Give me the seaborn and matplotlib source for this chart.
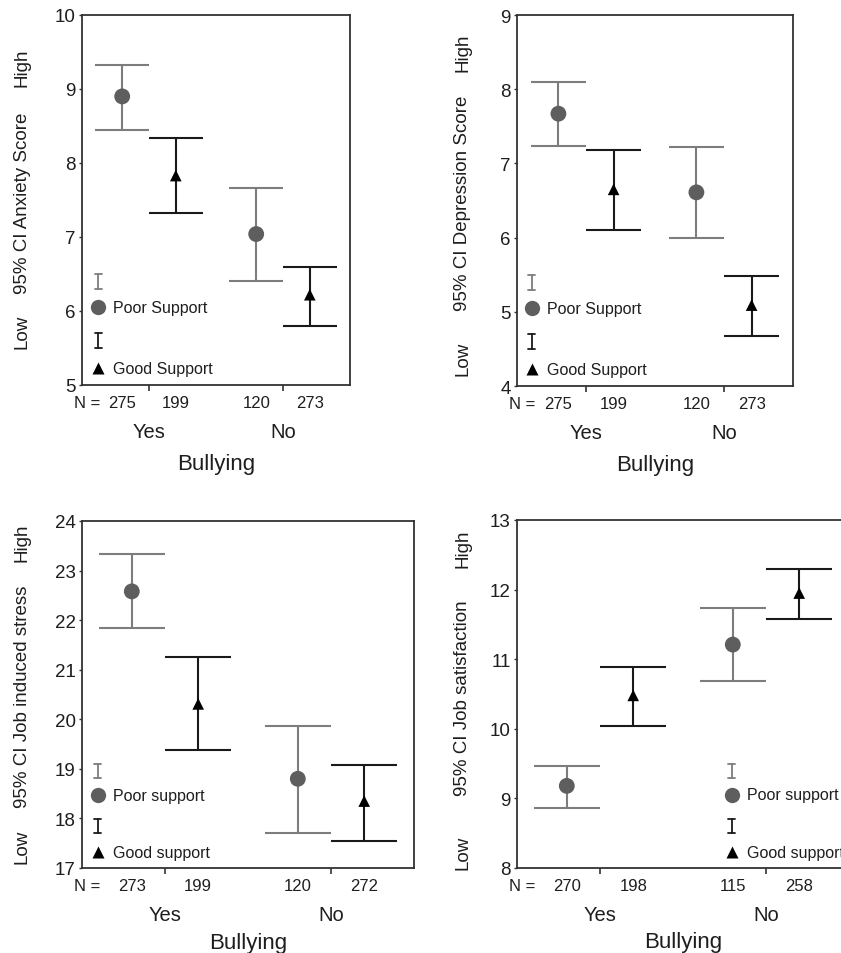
import numpy as np
import pandas as pd
import seaborn as sns
import matplotlib.pyplot as plt

sns.set_style("ticks")
plt.rcParams["font.family"] = ["Liberation Sans", "DejaVu Sans"]

# order of every list: Poor/Yes, Good/Yes, Poor/No, Good/No
bullying = ["Yes", "Yes", "No", "No"]
support = ["Poor", "Good", "Poor", "Good"]

anx_mean = [8.90, 7.83, 7.04, 6.22]
anx_lo = [8.45, 7.32, 6.41, 5.80]
anx_hi = [9.33, 8.34, 7.66, 6.59]
anx_n = [275, 199, 120, 273]

dep_mean = [7.67, 6.65, 6.61, 5.09]
dep_lo = [7.24, 6.10, 6.00, 4.67]
dep_hi = [8.10, 7.18, 7.22, 5.48]
dep_n = [275, 199, 120, 273]

str_mean = [22.58, 20.31, 18.80, 18.35]
str_lo = [21.85, 19.38, 17.71, 17.55]
str_hi = [23.33, 21.26, 19.87, 19.07]
str_n = [273, 199, 120, 272]

sat_mean = [9.18, 10.48, 11.21, 11.95]
sat_lo = [8.86, 10.04, 10.68, 11.58]
sat_hi = [9.47, 10.89, 11.74, 12.29]
sat_n = [270, 198, 115, 258]

group_pos = {"Yes": 1, "No": 3}
support_off = {"Poor": -0.4, "Good": 0.4}
bar_col = {"Poor": "#7d7d7d", "Good": "#1a1a1a"}
mark_col = {"Poor": "#5e5e5e", "Good": "#000000"}
txt = "#1e1e1e"
DPI = 100


def panel(ax, mean, lo, hi, n, ylim, ylabel, labels, leg_x, ax_w, ylab_off, yfr, xpad=9):
    df = pd.DataFrame({"bullying": bullying, "support": support,
                       "mean": mean, "lo": lo, "hi": hi, "n": n})
    df["pos"] = df["bullying"].map(group_pos) + df["support"].map(support_off)

    for _, r in df.iterrows():
        c = bar_col[r["support"]]
        ax.vlines(r["pos"], r["lo"], r["hi"], color=c, lw=1.5, zorder=2)
        ax.hlines([r["lo"], r["hi"]], r["pos"] - 0.4, r["pos"] + 0.4, color=c, lw=1.5, zorder=2)

    sns.scatterplot(data=df[df["support"] == "Poor"], x="pos", y="mean", marker="o",
                    color=mark_col["Poor"], s=130, edgecolor="none", ax=ax, zorder=3, legend=False)
    sns.scatterplot(data=df[df["support"] == "Good"], x="pos", y="mean", marker="^",
                    color=mark_col["Good"], s=70, edgecolor="none", ax=ax, zorder=3, legend=False)

    ax.set_xlim(0, 4)
    ax.set_ylim(*ylim)
    ax.set_yticks(np.arange(ylim[0], ylim[1] + 1))
    ax.set_xticks([1, 3])
    ax.set_xticklabels(["Yes", "No"], fontsize=14.5, color=txt)
    ax.tick_params(axis="x", direction="out", length=4.5, width=1.2, pad=22, colors="#333333")
    ax.tick_params(axis="x", labelcolor=txt)
    ax.tick_params(axis="y", direction="out", length=2.5, width=1.0, pad=2,
                   labelsize=13.5, colors="#333333", labelcolor=txt)
    ax.set_xlabel("Bullying", fontsize=16, color=txt, labelpad=xpad)
    ax.set_ylabel("")
    for s in ax.spines.values():
        s.set_visible(True)
        s.set_color("#333333")
        s.set_linewidth(1.3)

    # N row under the axis
    tr = ax.get_xaxis_transform()
    for p, v in zip(df["pos"], df["n"]):
        ax.annotate(str(v), xy=(p, 0), xycoords=tr, xytext=(0, -12.5), textcoords="offset points",
                    ha="center", va="center", fontsize=12, color=txt)
    ax.annotate("N =", xy=(0, 0), xycoords="axes fraction", xytext=(3.6, -12.5),
                textcoords="offset points", ha="center", va="center", fontsize=12, color=txt)

    # y label: Low / title / High
    for s, yf in zip(["Low", ylabel, "High"], yfr):
        ax.annotate(s, xy=(0, yf), xycoords="axes fraction", xytext=(ylab_off, 0),
                    textcoords="offset points", rotation=90, ha="center", va="center",
                    fontsize=13.5, color=txt)

    # hand-drawn key
    cap = 3.5 / ax_w
    tx = leg_x + 15 / ax_w
    for (y1, y2), c in zip([(0.26, 0.30), (0.10, 0.14)], [bar_col["Poor"], bar_col["Good"]]):
        ax.plot([leg_x, leg_x], [y1, y2], color=c, lw=1.3, transform=ax.transAxes, clip_on=False)
        for yy in (y1, y2):
            ax.plot([leg_x - cap, leg_x + cap], [yy, yy], color=c, lw=1.3,
                    transform=ax.transAxes, clip_on=False)
    ax.plot([leg_x], [0.21], marker="o", ms=11, color=mark_col["Poor"], mec="none",
            transform=ax.transAxes, clip_on=False)
    ax.plot([leg_x], [0.045], marker="^", ms=8, color=mark_col["Good"], mec="none",
            transform=ax.transAxes, clip_on=False)
    ax.text(tx, 0.21, labels[0], transform=ax.transAxes, va="center", ha="left",
            fontsize=11.5, color=txt)
    ax.text(tx, 0.045, labels[1], transform=ax.transAxes, va="center", ha="left",
            fontsize=11.5, color=txt)


fig = plt.figure(figsize=(8.41, 9.54), dpi=DPI)
ax1 = fig.add_axes([82 / 841, 1 - 386 / 954, 268 / 841, 370 / 954])
ax2 = fig.add_axes([517 / 841, 1 - 387 / 954, 276 / 841, 371 / 954])
ax3 = fig.add_axes([82 / 841, 1 - 869 / 954, 332 / 841, 347 / 954])
ax4 = fig.add_axes([517 / 841, 1 - 869 / 954, 332 / 841, 348 / 954])

panel(ax1, anx_mean, anx_lo, anx_hi, anx_n, (5, 10), "95% CI Anxiety Score",
      ["Poor Support", "Good Support"], 0.06, 268, -43, (0.147, 0.494, 0.859))
panel(ax2, dep_mean, dep_lo, dep_hi, dep_n, (4, 9), "95% CI Depression Score",
      ["Poor Support", "Good Support"], 0.054, 276, -39, (0.076, 0.495, 0.90))
panel(ax3, str_mean, str_lo, str_hi, str_n, (17, 24), "95% CI Job induced stress",
      ["Poor support", "Good support"], 0.047, 332, -43, (0.065, 0.497, 0.94), xpad=6)
panel(ax4, sat_mean, sat_lo, sat_hi, sat_n, (8, 13), "95% CI Job satisfaction",
      ["Poor support", "Good support"], 0.647, 332, -39, (0.046, 0.49, 0.92), xpad=5)

fig.savefig("out.png", dpi=DPI)
